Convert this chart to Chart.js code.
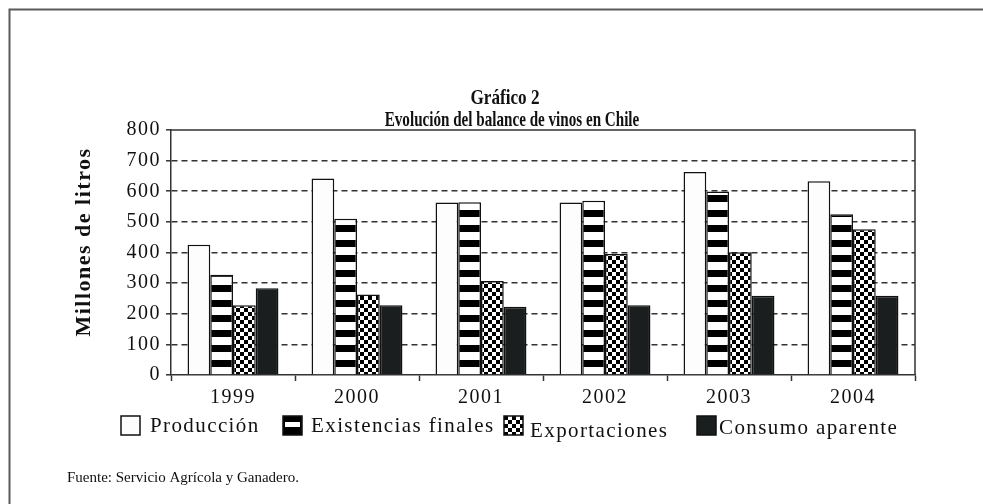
<!DOCTYPE html>
<html>
<head>
<meta charset="utf-8">
<script src="https://cdn.jsdelivr.net/npm/chart.js@4.4.1/dist/chart.umd.min.js"></script>
<style>
  html, body { margin: 0; padding: 0; background: #ffffff; }
  #wrap { position: relative; width: 983px; height: 504px; }
  canvas { display: block; }
</style>
</head>
<body>
<div id="wrap"><canvas id="c" width="983" height="504"></canvas></div>
<script>
// ---- Data ----
const categories = ['1999', '2000', '2001', '2002', '2003', '2004'];
const produccion = [425, 642, 563, 563, 663, 633];
const existencias = [327, 510, 564, 569, 599, 525];
const exportaciones = [228, 263, 307, 395, 401, 476];
const consumo = [283, 228, 223, 228, 259, 259];
const seriesNames = ['Producción', 'Existencias finales', 'Exportaciones', 'Consumo aparente'];
const yTicks = [0, 100, 200, 300, 400, 500, 600, 700, 800];
const titleLines = ['Gráfico 2', 'Evolución del balance de vinos en Chile'];
const yTitle = 'Millones de litros';
const sourceNote = 'Fuente: Servicio Agrícola y Ganadero.';

const SERIF = "'Liberation Serif', 'Times New Roman', serif";

// ---- Fill patterns ----
function stripePattern() {
  const c = document.createElement('canvas');
  c.width = 8; c.height = 15;
  const x = c.getContext('2d');
  x.fillStyle = '#ffffff'; x.fillRect(0, 0, 8, 15);
  x.fillStyle = '#000000'; x.fillRect(0, 0, 8, 7);
  return document.getElementById('c').getContext('2d').createPattern(c, 'repeat');
}
function checkerPattern() {
  const c = document.createElement('canvas');
  c.width = 8; c.height = 8;
  const x = c.getContext('2d');
  x.fillStyle = '#ffffff'; x.fillRect(0, 0, 8, 8);
  x.fillStyle = '#000000'; x.fillRect(0, 0, 4, 4); x.fillRect(4, 4, 4, 4);
  return document.getElementById('c').getContext('2d').createPattern(c, 'repeat');
}
const fills = ['#fdfdfd', stripePattern(), checkerPattern(), '#1b1e1e'];

// ---- Decorations: frame, plot border, title, legend, source ----
const decor = {
  id: 'decor',
  beforeDraw(chart) {
    chart.ctx.letterSpacing = '1.5px';
  },
  afterDraw(chart) {
    const ctx = chart.ctx;
    const a = chart.chartArea;
    ctx.save();
    ctx.letterSpacing = '0px';
    // page frame (top + left)
    ctx.strokeStyle = '#5a5a5a';
    ctx.lineWidth = 2;
    ctx.beginPath();
    ctx.moveTo(983, 9.5); ctx.lineTo(9.5, 9.5); ctx.lineTo(9.5, 504);
    ctx.stroke();
    // plot top + right border
    ctx.strokeStyle = '#333';
    ctx.lineWidth = 1.5;
    ctx.beginPath();
    ctx.moveTo(a.left, a.top); ctx.lineTo(a.right, a.top); ctx.lineTo(a.right, a.bottom);
    ctx.stroke();
    // title (condensed bold serif)
    ctx.fillStyle = '#111';
    ctx.textAlign = 'center';
    ctx.textBaseline = 'alphabetic';
    ctx.save();
    ctx.translate(505, 104); ctx.scale(0.78, 1);
    ctx.font = 'bold 22px ' + SERIF;
    ctx.fillText(titleLines[0], 0, 0);
    ctx.restore();
    ctx.save();
    ctx.translate(512, 126); ctx.scale(0.72, 1);
    ctx.font = 'bold 21px ' + SERIF;
    ctx.fillText(titleLines[1], 0, 0);
    ctx.restore();

    // legend
    const items = [
      { bx: 121, tx: 150, base: 432 },
      { bx: 283, tx: 311, base: 432 },
      { bx: 504, tx: 530, base: 437 },
      { bx: 697, tx: 719, base: 434 }
    ];
    const by = 416, bw = 19, bh = 19;
    items.forEach((it, i) => {
      ctx.save();
      if (i === 1) {
        ctx.fillStyle = '#000'; ctx.fillRect(it.bx, by, bw, bh);
        ctx.fillStyle = '#fff'; ctx.fillRect(it.bx + 2, by + 6, bw - 4, 5);
      } else {
        ctx.fillStyle = chart.data.datasets[i].backgroundColor;
        ctx.fillRect(it.bx, by, bw, bh);
      }
      ctx.strokeStyle = '#111'; ctx.lineWidth = 1.5;
      ctx.strokeRect(it.bx, by, bw, bh);
      ctx.restore();
      ctx.save();
      ctx.font = '21px ' + SERIF;
      ctx.letterSpacing = '1.4px';
      ctx.fillStyle = '#111';
      ctx.textAlign = 'left';
      ctx.fillText(chart.data.datasets[i].label, it.tx, it.base);
      ctx.restore();
    });

    // source note
    ctx.font = '15px ' + SERIF;
    ctx.textAlign = 'left';
    ctx.fillStyle = '#111';
    ctx.fillText(sourceNote, 67, 482);
    ctx.restore();
  }
};

const datasets = [produccion, existencias, exportaciones, consumo].map((vals, i) => ({
  label: seriesNames[i],
  data: vals,
  backgroundColor: fills[i],
  borderColor: '#111',
  borderWidth: 1.5,
  categoryPercentage: 0.733,
  barPercentage: 1.0
}));

new Chart(document.getElementById('c'), {
  type: 'bar',
  data: { labels: categories, datasets },
  plugins: [decor],
  options: {
    responsive: false,
    animation: false,
    events: [],
    layout: { padding: { top: 130, right: 68, bottom: 89, left: 0 } },
    plugins: {
      legend: { display: false },
      title: { display: false },
      tooltip: { enabled: false }
    },
    scales: {
      x: {
        type: 'category',
        offset: true,
        grid: {
          offset: true,
          drawOnChartArea: false,
          drawTicks: true,
          tickLength: 6,
          tickColor: '#333',
          tickWidth: 1.5
        },
        border: { display: true, color: '#333', width: 1.5 },
        ticks: {
          color: '#111',
          font: { family: SERIF, size: 20 },
          padding: 5,
          maxRotation: 0
        },
        afterFit(s) { s.height = 40; }
      },
      y: {
        min: 0,
        max: 800,
        afterBuildTicks(s) { s.ticks = yTicks.map(v => ({ value: v })); },
        grid: {
          color: (c) => (c.tick && (c.tick.value === 0 || c.tick.value === 800)) ? 'rgba(0,0,0,0)' : '#333',
          lineWidth: 1.6,
          drawTicks: true,
          tickLength: 5,
          tickColor: '#333',
          tickWidth: 1.5,
          tickBorderDash: []
        },
        border: { display: true, color: '#333', width: 1.5, dash: [6, 4] },
        ticks: {
          color: '#111',
          font: { family: SERIF, size: 20 },
          padding: 5
        },
        title: {
          display: true,
          text: '\u00a0\u00a0\u00a0' + yTitle,
          color: '#111',
          font: { family: SERIF, size: 22, weight: 'bold' },
          padding: { top: 71, bottom: 0 }
        },
        afterFit(s) { s.width = 171; }
      }
    }
  }
});
</script>
</body>
</html>
